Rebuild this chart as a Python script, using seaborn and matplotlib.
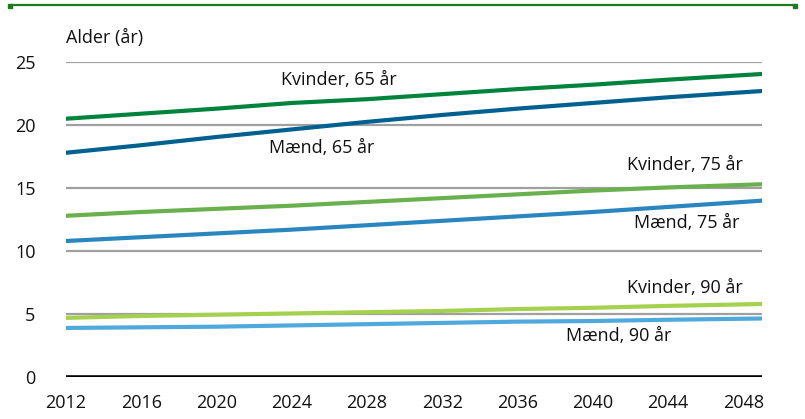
import matplotlib
matplotlib.use("Agg")
import matplotlib.pyplot as plt
import seaborn as sns
import pandas as pd
from matplotlib.lines import Line2D

# data
years = [2012, 2016, 2020, 2024, 2028, 2032, 2036, 2040, 2044, 2049]
kvinder_65 = [20.5, 20.9, 21.3, 21.75, 22.05, 22.45, 22.85, 23.2, 23.6, 24.05]
maend_65 = [17.8, 18.4, 19.05, 19.65, 20.25, 20.8, 21.3, 21.75, 22.2, 22.7]
kvinder_75 = [12.8, 13.1, 13.35, 13.6, 13.9, 14.2, 14.5, 14.8, 15.05, 15.3]
maend_75 = [10.8, 11.1, 11.4, 11.7, 12.05, 12.4, 12.75, 13.1, 13.5, 14.0]
kvinder_90 = [4.7, 4.85, 4.95, 5.05, 5.15, 5.25, 5.4, 5.5, 5.65, 5.8]
maend_90 = [3.9, 3.95, 4.0, 4.1, 4.2, 4.3, 4.4, 4.45, 4.55, 4.65]

series_names = ["Kvinder, 65 år", "Mænd, 65 år", "Kvinder, 75 år",
                "Mænd, 75 år", "Kvinder, 90 år", "Mænd, 90 år"]
series_values = [kvinder_65, maend_65, kvinder_75, maend_75, kvinder_90, maend_90]
colors = ["#00843D", "#00608F", "#6AB04C", "#2A86BF", "#A4D24E", "#4FA9DD"]

# label anchor (year, value) for each series
label_pos = [(2026.5, 23.6), (2025.6, 18.2), (2044.9, 16.8),
             (2045.0, 12.2), (2044.9, 7.1), (2041.4, 3.3)]

x_ticks = list(range(2012, 2049, 4))
y_ticks = [0, 5, 10, 15, 20, 25]

df = pd.DataFrame(
    [(y, name, v) for name, vals in zip(series_names, series_values) for y, v in zip(years, vals)],
    columns=["year", "serie", "alder"],
)

sns.set_style("white")
plt.rcParams["font.family"] = ["Open Sans", "DejaVu Sans"]

fig = plt.figure(figsize=(8.05, 4.19), dpi=100)
ax = fig.add_axes([0.082, 0.1, 0.8646, 0.752])

for v in y_ticks[1:]:
    ax.axhline(v, color="#A0A0A0", linewidth=1.6, zorder=1)
ax.axhline(0, color="black", linewidth=2.6, zorder=1)

sns.lineplot(data=df, x="year", y="alder", hue="serie", hue_order=series_names,
             palette=colors, linewidth=3.0, legend=False, ax=ax, zorder=3)
for line in ax.lines:
    line.set_solid_capstyle("round")

for name, (lx, ly) in zip(series_names, label_pos):
    ax.text(lx, ly, name, ha="center", va="center", fontsize=13, color="#111111")

ax.set_xlim(2012, 2049)
ax.set_ylim(0, 25)
ax.set_xticks(x_ticks)
ax.set_yticks(y_ticks)
ax.tick_params(axis="both", length=0, labelsize=13, colors="#111111")
ax.tick_params(axis="x", pad=12)
ax.tick_params(axis="y", pad=22)
ax.set_xlabel("")
ax.set_ylabel("")
for s in ax.spines.values():
    s.set_visible(False)

fig.text(0.082, 0.91, "Alder (år)", ha="left", va="center", fontsize=13, color="#111111")

# green border line at the top, with small square ends
fig.add_artist(Line2D([0.012, 0.988], [0.988, 0.988], color="#1E7B1E", linewidth=1.6,
                      transform=fig.transFigure))
fig.add_artist(Line2D([0.012, 0.988], [0.986, 0.986], color="#1E7B1E", linestyle="none",
                      marker="s", markersize=3, transform=fig.transFigure))

fig.savefig("out.png", dpi=100)
